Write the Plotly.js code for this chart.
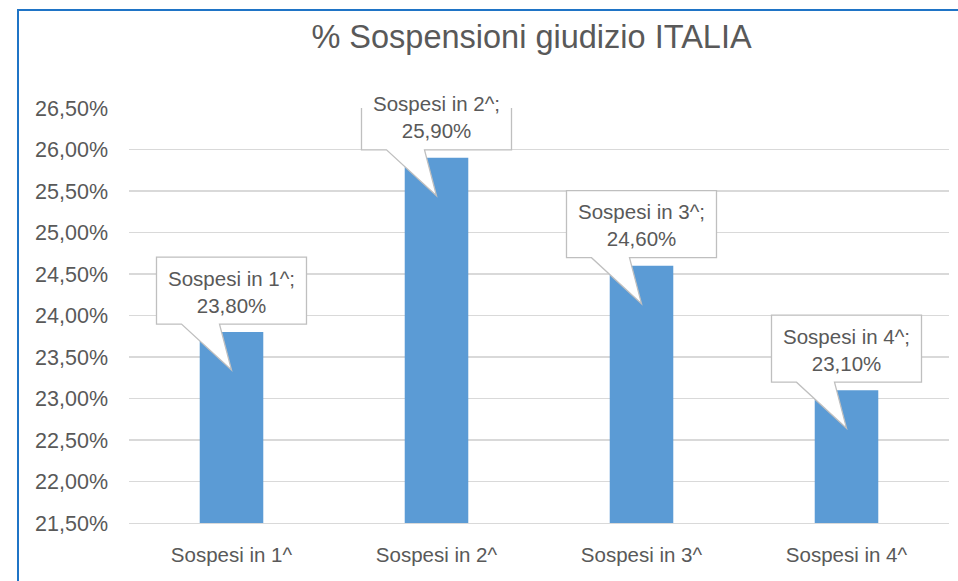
<!DOCTYPE html>
<html>
<head>
<meta charset="utf-8">
<script src="https://cdn.plot.ly/plotly-3.0.1.min.js"></script>
<style>
html,body{margin:0;padding:0;background:#fff;}
#wrap{position:relative;width:958px;height:581px;overflow:hidden;}
#frame{position:absolute;left:17px;top:9px;width:1000px;height:700px;border-left:2px solid #1f74c6;border-top:2px solid #1f74c6;pointer-events:none;z-index:2;}
#chart{position:absolute;left:0;top:0;width:958px;height:581px;}
</style>
</head>
<body>
<div id="wrap">
<div id="chart"></div>
<div id="frame"></div>
</div>
<script>
const categories = ["Sospesi in 1^", "Sospesi in 2^", "Sospesi in 3^", "Sospesi in 4^"];
const values = [23.8, 25.9, 24.6, 23.1];
const valueLabels = ["23,80%", "25,90%", "24,60%", "23,10%"];
const titleText = "% Sospensioni giudizio ITALIA";

const FONT = "Liberation Sans, Arial, sans-serif";
const TXT = "#595959";

const shapes = [];
const annotations = [];
categories.forEach((c, i) => {
  shapes.push({
    type: "path", layer: "above",
    xref: "x", yref: "y",
    xsizemode: "pixel", ysizemode: "pixel",
    xanchor: c, yanchor: values[i],
    path: "M -75,8 L -75,75 L 75,75 L 75,8 L -12,8 L 0,-38 L -50,8 Z",
    fillcolor: "#ffffff",
    line: {color: "#bfbfbf", width: 1.3}
  });
  annotations.push({
    x: c, y: values[i], xref: "x", yref: "y",
    yshift: 40.5, showarrow: false,
    text: c + ";<br>" + valueLabels[i],
    font: {family: FONT, size: 20.5, color: TXT},
    align: "center", xanchor: "center", yanchor: "middle"
  });
});

const data = [{
  type: "bar",
  x: categories,
  y: values,
  width: 0.31,
  marker: {color: "#5b9bd5"},
  hoverinfo: "none"
}];

const layout = {
  width: 958, height: 581,
  margin: {l: 129, r: 9, t: 108, b: 58},
  paper_bgcolor: "#ffffff", plot_bgcolor: "#ffffff",
  separators: ",.",
  showlegend: false,
  title: {
    text: titleText,
    font: {family: FONT, size: 32.5, color: TXT},
    xref: "container", yref: "container",
    x: 531.5/958, xanchor: "center",
    y: 1 - 37/581, yanchor: "middle"
  },
  xaxis: {
    type: "category",
    tickfont: {family: FONT, size: 20.5, color: TXT},
    showgrid: false, zeroline: false,
    showline: true, linecolor: "#d9d9d9", linewidth: 1.3,
    ticks: "", ticklabelstandoff: 13,
    range: [-0.5, 3.5]
  },
  yaxis: {
    range: [21.5, 26.5],
    dtick: 0.5, tick0: 21.5,
    tickformat: ".2f", ticksuffix: "%",
    tickfont: {family: FONT, size: 21.5, color: TXT},
    showgrid: true, gridcolor: "#d9d9d9", gridwidth: 1.3,
    zeroline: false, showline: false,
    ticks: "", ticklabelstandoff: 20
  },
  shapes: shapes,
  annotations: annotations
};

Plotly.newPlot("chart", data, layout, {staticPlot: true, displayModeBar: false});
</script>
</body>
</html>
